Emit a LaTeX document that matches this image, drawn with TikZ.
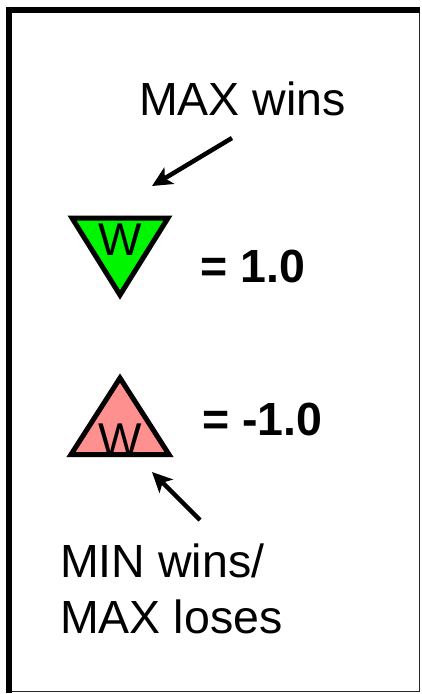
\documentclass[tikz,border=0pt]{standalone}
\usepackage{fontspec}
\setmainfont{Liberation Sans}
\usetikzlibrary{arrows.meta}
\definecolor{wingreen}{HTML}{00F500}
\definecolor{losepink}{HTML}{FF9090}
\tikzset{
  lbl/.style={inner sep=0pt, anchor=base west, font=\fontsize{46.5}{56}\selectfont},
  val/.style={inner sep=0pt, anchor=base west, font=\fontsize{46.5}{56}\selectfont\bfseries},
  wlet/.style={inner sep=0pt, anchor=base, font=\fontsize{46}{56}\selectfont},
  tri/.style={draw=black, line width=5pt, line join=miter},
  pointer/.style={line width=4.5pt, -{Stealth[length=20pt,width=19pt,inset=5pt]}}
}
\begin{document}
\begin{tikzpicture}[x=1pt,y=-1pt]
\useasboundingbox (0,0) rectangle (422,694);
% frame
\draw[line width=1.2pt, black!85] (8,9) rectangle (419.5,691.8);
\fill (6,7) rectangle (12,693);
\fill (6,7) rectangle (420,13);
% triangles
\filldraw[tri, fill=wingreen] (72,218) -- (168,218) -- (120,295) -- cycle;
\filldraw[tri, fill=losepink] (120,378) -- (169,454.5) -- (71,454.5) -- cycle;
\node[wlet] (wtop) at (120,255) {W};
\node[wlet] (wbot) at (120,455) {W};
% labels
\node[lbl] (maxwins) at (139,115) {MAX wins};
\node[lbl] (minwins) at (60,577) {MIN wins/};
\node[lbl] (maxloses) at (60,633) {MAX loses};
\node[val] (one) at (200,282) {= 1.0};
\node[val] (mone) at (202,435) {= -1.0};
% arrows
\coordinate (a1s) at (232,138);
\coordinate (a1e) at (152,186);
\coordinate (a2s) at (200,520);
\coordinate (a2e) at (152,472);
\draw[pointer] (a1s) -- (a1e);
\draw[pointer] (a2s) -- (a2e);
\end{tikzpicture}
\end{document}
